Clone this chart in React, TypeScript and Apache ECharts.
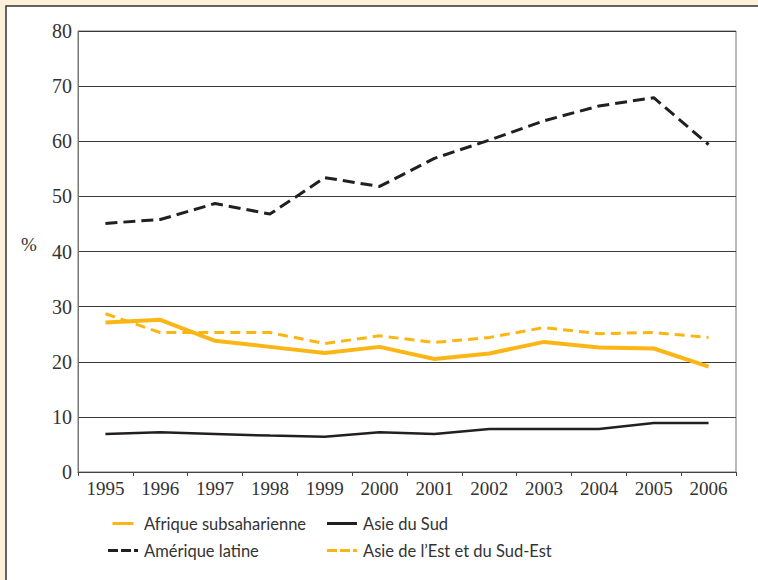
import React, { useEffect, useRef } from "react";
import * as echarts from "echarts";

const years = ["1995", "1996", "1997", "1998", "1999", "2000", "2001", "2002", "2003", "2004", "2005", "2006"];
const afrique = [27.1, 27.6, 23.8, 22.7, 21.6, 22.7, 20.5, 21.5, 23.6, 22.6, 22.4, 19.1];
const ameriqueLatine = [45.1, 45.8, 48.7, 46.8, 53.4, 51.8, 56.9, 60.2, 63.7, 66.4, 67.9, 59.4];
const asieSud = [6.9, 7.2, 6.9, 6.6, 6.4, 7.2, 6.9, 7.8, 7.8, 7.8, 8.9, 8.9];
const asieEst = [28.7, 25.3, 25.3, 25.3, 23.3, 24.7, 23.5, 24.4, 26.2, 25.1, 25.3, 24.4];
const seriesNames = ["Afrique subsaharienne", "Asie du Sud", "Amérique latine", "Asie de l’Est et du Sud-Est"];

const ORANGE = "#fbb616";
const BLACK = "#231f20";

const ICON_SOLID_THICK = "path://M0,0H28V4H0Z";
const ICON_SOLID = "path://M0,0H30V3H0Z";
const ICON_DASH = "path://M0,0H10V3H0Z M13,0H23V3H13Z M26,0H30V3H26Z";

export default function App() {
  const ref = useRef<HTMLDivElement>(null);
  useEffect(() => {
    if (!ref.current) return;
    const chart = echarts.init(ref.current, undefined, { renderer: "svg" });
    const legendText = { fontFamily: "Lato", fontSize: 16.5, color: "#333", padding: [0, 0, 0, 1] };
    chart.setOption({
      animation: false,
      backgroundColor: "#fdf0da",
      graphic: [
        {
          type: "rect",
          z: -10,
          shape: { x: 6, y: 6, width: 800, height: 800 },
          style: { fill: "#ffffff", stroke: "#333", lineWidth: 1.5 },
        },
        {
          type: "text",
          x: 21,
          y: 235,
          style: { text: "%", fontFamily: "Liberation Serif", fontSize: 19, fill: "#333" },
        },
      ],
      grid: {
        left: 78,
        top: 31,
        right: 22,
        bottom: 108,
        show: true,
        borderColor: "#777",
        borderWidth: 1,
        backgroundColor: "transparent",
      },
      legend: [
        {
          data: [
            { name: seriesNames[0], icon: ICON_SOLID_THICK, itemWidth: 28, itemHeight: 4 },
            { name: seriesNames[2], icon: ICON_DASH },
          ],
          orient: "vertical",
          left: 103,
          top: 510,
          itemWidth: 30,
          itemHeight: 3,
          itemGap: 10,
          textStyle: legendText,
        },
        {
          data: [
            { name: seriesNames[1], icon: ICON_SOLID },
            { name: seriesNames[3], icon: ICON_DASH },
          ],
          orient: "vertical",
          left: 322,
          top: 510,
          itemWidth: 30,
          itemHeight: 3,
          itemGap: 10,
          textStyle: legendText,
        },
      ],
      xAxis: {
        type: "category",
        data: years,
        boundaryGap: true,
        axisLine: { lineStyle: { color: "#444", width: 1 } },
        axisTick: { show: true, length: 4, lineStyle: { color: "#444" } },
        axisLabel: { fontFamily: "Liberation Serif", fontSize: 19, color: "#333", margin: 7 },
        splitLine: { show: false },
      },
      yAxis: {
        type: "value",
        min: 0,
        max: 80,
        interval: 10,
        axisLine: { show: true, lineStyle: { color: "#777" } },
        axisTick: { show: false },
        axisLabel: { fontFamily: "Liberation Serif", fontSize: 20, color: "#333", margin: 6 },
        splitLine: { lineStyle: { color: "#3a3a3a", width: 1 } },
      },
      series: [
        {
          name: seriesNames[0],
          type: "line",
          data: afrique,
          symbol: "none",
          lineStyle: { color: ORANGE, width: 4 },
          itemStyle: { color: ORANGE },
          z: 3,
        },
        {
          name: seriesNames[1],
          type: "line",
          data: asieSud,
          symbol: "none",
          lineStyle: { color: BLACK, width: 2.5 },
          itemStyle: { color: BLACK },
          z: 3,
        },
        {
          name: seriesNames[2],
          type: "line",
          data: ameriqueLatine,
          symbol: "none",
          lineStyle: { color: BLACK, width: 3, type: [12, 6] },
          itemStyle: { color: BLACK },
          z: 3,
        },
        {
          name: seriesNames[3],
          type: "line",
          data: asieEst,
          symbol: "none",
          lineStyle: { color: ORANGE, width: 3, type: [10, 6] },
          itemStyle: { color: ORANGE },
          z: 3,
        },
      ],
    });
    return () => chart.dispose();
  }, []);
  return (
    <div
      ref={ref}
      style={{ position: "absolute", left: 0, top: 0, width: 758, height: 580 }}
    />
  );
}
